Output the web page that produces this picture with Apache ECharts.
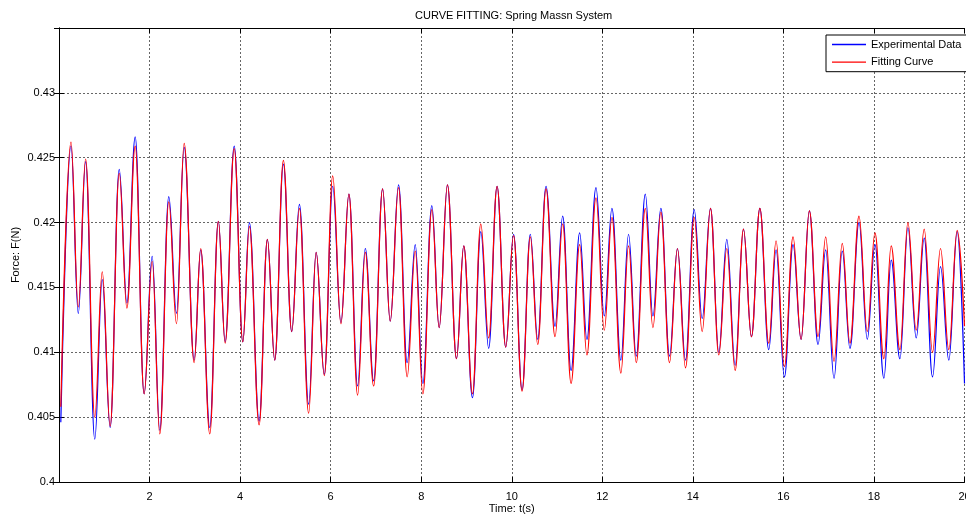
<!DOCTYPE html>
<html>
<head>
<meta charset="utf-8">
<title>CURVE FITTING: Spring Massn System</title>
<script src="https://cdn.jsdelivr.net/npm/echarts@6/dist/echarts.min.js"></script>
<style>
  html, body { margin: 0; padding: 0; background: #fff; }
  #chart { width: 966px; height: 515px; }
</style>
</head>
<body>
<div id="chart"></div>
<script>
// time of each turning point (s)
const times = [
  0.04, 0.265, 0.426, 0.588, 0.79, 0.955, 1.13, 1.33, 1.50, 1.683,
  1.88, 2.058, 2.226, 2.425, 2.595, 2.765, 2.985, 3.13, 3.33, 3.52,
  3.67, 3.87, 4.06, 4.205, 4.42, 4.603, 4.765, 4.956, 5.14, 5.31,
  5.514, 5.68, 5.86, 6.045, 6.227, 6.404, 6.595, 6.765, 6.95, 7.147,
  7.316, 7.50, 7.69, 7.868, 8.037, 8.235, 8.397, 8.58, 8.78, 8.94,
  9.132, 9.316, 9.49, 9.676, 9.867, 10.04, 10.228, 10.41, 10.574, 10.757,
  10.956, 11.125, 11.31, 11.50, 11.66, 11.86, 12.044, 12.213, 12.41, 12.58,
  12.75, 12.95, 13.118, 13.294, 13.485, 13.66, 13.838, 14.03, 14.206, 14.39,
  14.573, 14.75, 14.934, 15.118, 15.294, 15.48, 15.677, 15.838, 16.022, 16.213,
  16.39, 16.574, 16.765, 16.934, 17.118, 17.30, 17.47, 17.67, 17.853, 18.022,
  18.22, 18.38, 18.574, 18.75, 18.934, 19.11, 19.294, 19.47, 19.654, 19.838,
  20.0
]
// Experimental Data (blue)
const experimental = [
  0.4046, 0.4259, 0.4130, 0.4247, 0.4033, 0.4156, 0.4042, 0.4241, 0.4138, 0.4266,
  0.4068, 0.4174, 0.4040, 0.4220, 0.4130, 0.4258, 0.4094, 0.4179, 0.4042, 0.4201,
  0.4108, 0.4259, 0.4108, 0.4200, 0.4047, 0.4187, 0.4094, 0.4245, 0.4116, 0.4214,
  0.4060, 0.4177, 0.4083, 0.4228, 0.4123, 0.4222, 0.4074, 0.4180, 0.4078, 0.4226,
  0.4124, 0.4229, 0.4092, 0.4183, 0.4076, 0.4213, 0.4119, 0.4229, 0.4095, 0.4182,
  0.4065, 0.4193, 0.4103, 0.4228, 0.4104, 0.4191, 0.4071, 0.4191, 0.4110, 0.4228,
  0.4120, 0.4205, 0.4086, 0.4192, 0.4110, 0.4227, 0.4128, 0.4211, 0.4094, 0.4191,
  0.4097, 0.4222, 0.4128, 0.4211, 0.4097, 0.4180, 0.4094, 0.4210, 0.4126, 0.4211,
  0.4100, 0.4187, 0.4090, 0.4195, 0.4112, 0.4211, 0.4102, 0.4179, 0.4081, 0.4183,
  0.4110, 0.4209, 0.4106, 0.4179, 0.4080, 0.4178, 0.4103, 0.4200, 0.4110, 0.4183,
  0.4080, 0.4171, 0.4095, 0.4196, 0.4111, 0.4188, 0.4081, 0.4166, 0.4094, 0.4193,
  0.4076
]
// Fitting Curve (red)
const fitting = [
  0.4058, 0.4262, 0.4135, 0.4249, 0.4050, 0.4162, 0.4043, 0.4238, 0.4134, 0.4259,
  0.4068, 0.4170, 0.4037, 0.4216, 0.4122, 0.4261, 0.4092, 0.4180, 0.4037, 0.4201,
  0.4107, 0.4257, 0.4108, 0.4197, 0.4044, 0.4187, 0.4094, 0.4248, 0.4116, 0.4211,
  0.4053, 0.4177, 0.4082, 0.4236, 0.4122, 0.4222, 0.4067, 0.4177, 0.4074, 0.4226,
  0.4124, 0.4227, 0.4081, 0.4178, 0.4068, 0.4210, 0.4119, 0.4229, 0.4095, 0.4182,
  0.4068, 0.4199, 0.4111, 0.4228, 0.4104, 0.4190, 0.4070, 0.4189, 0.4106, 0.4226,
  0.4112, 0.4199, 0.4076, 0.4183, 0.4098, 0.4219, 0.4117, 0.4204, 0.4084, 0.4182,
  0.4092, 0.4211, 0.4119, 0.4208, 0.4092, 0.4180, 0.4088, 0.4204, 0.4116, 0.4211,
  0.4098, 0.4180, 0.4086, 0.4195, 0.4112, 0.4211, 0.4107, 0.4186, 0.4089, 0.4189,
  0.4110, 0.4209, 0.4112, 0.4189, 0.4093, 0.4184, 0.4107, 0.4205, 0.4116, 0.4192,
  0.4095, 0.4182, 0.4102, 0.4200, 0.4117, 0.4195, 0.4100, 0.4180, 0.4102, 0.4194,
  0.4120
]

const font = 'Liberation Sans, Arial, sans-serif'
const gridLine = { show: true, lineStyle: { color: '#666', type: [2, 2], width: 1 } }
const boxLine = { show: true, lineStyle: { color: '#000', width: 1 } }
const inTick = { show: true, inside: true, length: 5, lineStyle: { color: '#000' } }

const pairs = arr => times.map((t, i) => [t, arr[i]])

const chart = echarts.init(document.getElementById('chart'))
chart.setOption({
  animation: false,
  backgroundColor: '#fff',
  title: {
    text: 'CURVE FITTING: Spring Massn System',
    left: 415,
    top: 10,
    padding: 0,
    textStyle: { fontFamily: font, fontSize: 11, fontWeight: 'normal', color: '#000' }
  },
  legend: {
    data: ['Experimental Data', 'Fitting Curve'],
    orient: 'vertical',
    left: 826,
    top: 35,
    icon: 'rect',
    itemWidth: 34,
    itemHeight: 1.3,
    itemGap: 4.7,
    padding: [3, 8, 3, 6],
    borderColor: '#000',
    borderWidth: 1,
    borderRadius: 0,
    backgroundColor: '#fff',
    textStyle: { fontFamily: font, fontSize: 11, color: '#000', lineHeight: 13 }
  },
  grid: { left: 59, right: 1.5, top: 28, bottom: 33, outerBoundsMode: 'none', containLabel: false },
  xAxis: [
    {
      type: 'value',
      min: 0,
      max: 20,
      interval: 2,
      name: 'Time: t(s)',
      nameLocation: 'middle',
      nameGap: 21,
      nameMoveOverlap: false,
      nameTextStyle: { fontFamily: font, fontSize: 11, color: '#000' },
      axisLine: boxLine,
      axisTick: inTick,
      axisLabel: {
        margin: 9,
        fontFamily: font,
        fontSize: 11,
        color: '#000',
        formatter: v => (v === 0 ? '' : String(v))
      },
      splitLine: gridLine
    },
    {
      type: 'value',
      position: 'top',
      min: 0,
      max: 20,
      interval: 2,
      axisLine: boxLine,
      axisTick: inTick,
      axisLabel: { show: false },
      splitLine: { show: false }
    }
  ],
  yAxis: [
    {
      type: 'value',
      min: 0.4,
      max: 0.435,
      interval: 0.005,
      name: 'Force: F(N)',
      nameLocation: 'middle',
      nameGap: 38,
      nameMoveOverlap: false,
      nameTextStyle: { fontFamily: font, fontSize: 11, color: '#000' },
      axisLine: boxLine,
      axisTick: inTick,
      axisLabel: {
        margin: 4,
        fontFamily: font,
        fontSize: 11,
        color: '#000',
        formatter: v => {
          const s = parseFloat(v.toFixed(3))
          return s >= 0.435 ? '' : String(s)
        }
      },
      splitLine: gridLine
    },
    {
      type: 'value',
      position: 'right',
      min: 0.4,
      max: 0.435,
      interval: 0.005,
      axisLine: boxLine,
      axisTick: inTick,
      axisLabel: { show: false },
      splitLine: { show: false }
    }
  ],
  series: [
    {
      name: 'Experimental Data',
      type: 'line',
      data: pairs(experimental),
      symbol: 'none',
      smooth: 0.4,
      smoothMonotone: 'x',
      lineStyle: { color: '#0000ff', width: 1.2 },
      itemStyle: { color: '#0000ff' }
    },
    {
      name: 'Fitting Curve',
      type: 'line',
      data: pairs(fitting),
      symbol: 'none',
      smooth: 0.4,
      smoothMonotone: 'x',
      lineStyle: { color: '#ff0000', width: 1.2 },
      itemStyle: { color: '#ff0000' }
    }
  ]
})
window.onresize = function () {
  chart.resize()
}
</script>
</body>
</html>
